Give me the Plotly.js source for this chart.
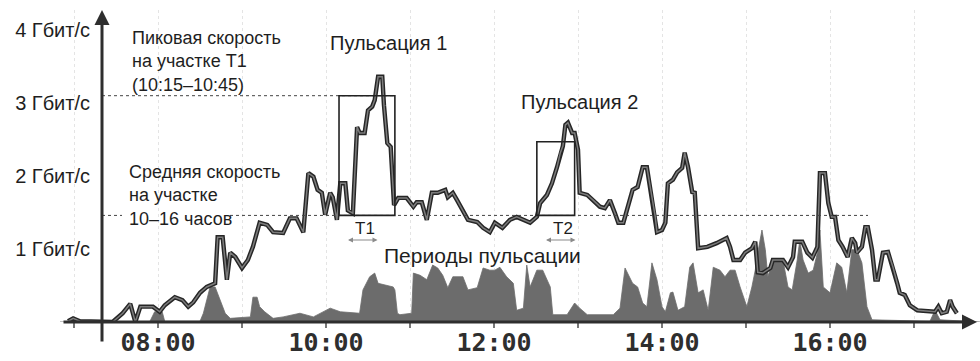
<!DOCTYPE html>
<html>
<head>
<meta charset="utf-8">
<script src="https://cdn.plot.ly/plotly-3.0.1.min.js"></script>
<style>html,body{margin:0;padding:0;background:#fff;}#chart{width:980px;height:361px;}</style>
</head>
<body>
<div id="chart"></div>
<script>
// Total traffic (line), hours of day and Gbit/s
const lineTime = [6.93,6.99,7.07,7.31,7.46,7.58,7.67,7.73,7.79,7.94,8.02,8.08,8.20,8.29,8.36,8.42,8.50,8.58,8.68,8.71,8.77,8.82,8.86,8.92,9.00,9.07,9.13,9.21,9.30,9.37,9.49,9.57,9.65,9.73,9.79,9.85,9.90,9.95,9.99,10.05,10.08,10.13,10.17,10.23,10.26,10.32,10.37,10.40,10.46,10.50,10.55,10.58,10.62,10.67,10.69,10.73,10.77,10.81,10.86,10.96,11.04,11.08,11.14,11.20,11.26,11.33,11.42,11.45,11.51,11.56,11.63,11.69,11.80,11.87,11.95,12.01,12.10,12.19,12.27,12.35,12.43,12.51,12.55,12.63,12.69,12.75,12.79,12.82,12.85,12.88,12.93,12.96,13.00,13.02,13.11,13.18,13.26,13.32,13.38,13.44,13.48,13.54,13.58,13.65,13.71,13.77,13.82,13.88,13.92,13.94,14.00,14.04,14.07,14.13,14.18,14.24,14.27,14.31,14.36,14.39,14.43,14.54,14.65,14.77,14.81,14.85,14.93,14.99,15.07,15.11,15.14,15.20,15.29,15.32,15.44,15.50,15.56,15.58,15.67,15.73,15.79,15.85,15.88,15.94,15.98,16.02,16.06,16.10,16.15,16.21,16.26,16.30,16.32,16.38,16.42,16.45,16.50,16.54,16.57,16.63,16.69,16.75,16.80,16.83,16.89,16.95,17.04,17.25,17.29,17.33,17.39,17.43,17.46,17.51];
const lineSpeed = [0.01,0.05,0.01,0,0,0.12,0.25,0,0.21,0.21,0.14,0.23,0.34,0.30,0.21,0.27,0.40,0.48,0.53,1.16,1.16,0.58,0.95,0.89,0.74,0.85,1.03,1.36,1.33,1.23,1.22,1.42,1.42,1.23,2.04,1.99,1.81,1.77,1.47,1.77,1.71,1.40,1.90,1.90,1.53,1.49,2.67,2.59,2.59,2.90,2.95,3.04,3.36,3.36,2.97,2.45,2.40,1.60,1.70,1.70,1.58,1.64,1.64,1.40,1.77,1.77,1.81,1.71,1.77,1.67,1.53,1.40,1.37,1.29,1.23,1.36,1.29,1.40,1.44,1.40,1.36,1.44,1.63,1.74,1.90,2.12,2.32,2.41,2.70,2.73,2.59,2.59,2.36,1.77,1.74,1.67,1.58,1.56,1.67,1.49,1.36,1.36,1.53,1.81,1.85,2.12,2.12,1.71,1.44,1.23,1.26,1.36,1.90,1.95,2.05,2.11,2.32,2.12,1.78,1.77,1.01,1.03,1.08,1.15,1.03,0.85,0.85,0.95,1.01,1.10,0.68,0.67,0.74,0.85,0.85,0.75,0.89,1.10,1.10,0.95,0.88,1.03,2.04,2.04,1.63,1.44,1.44,1.12,1.03,0.89,1.15,1.08,0.95,1.03,1.30,1.30,0.99,0.58,0.58,0.95,0.96,0.75,0.53,0.40,0.37,0.23,0.16,0.14,0.21,0.12,0.14,0.30,0.21,0.12];

// Burst traffic (filled area)
const burstTime = [6.83,7.90,7.96,8.05,8.08,8.50,8.54,8.62,8.68,8.74,8.80,8.86,9.10,9.13,9.18,9.21,9.27,9.37,9.49,9.69,9.85,10.05,10.17,10.40,10.44,10.52,10.58,10.62,10.68,10.80,10.82,10.85,10.88,11.02,11.04,11.12,11.20,11.27,11.33,11.39,11.45,11.51,11.63,11.69,11.80,11.87,11.95,12.01,12.07,12.15,12.23,12.27,12.35,12.39,12.43,12.51,12.58,12.67,12.70,12.87,12.96,13.02,13.11,13.42,13.50,13.56,13.65,13.71,13.77,13.82,13.88,13.94,14.00,14.04,14.10,14.13,14.19,14.27,14.33,14.37,14.43,14.49,14.55,14.61,14.69,14.75,14.81,14.87,14.93,15.01,15.07,15.11,15.14,15.19,15.23,15.26,15.32,15.44,15.50,15.55,15.61,15.64,15.68,15.74,15.80,15.85,15.88,15.92,16.00,16.08,16.14,16.20,16.26,16.32,16.38,16.44,16.50,17.19,17.25,17.31,17.79];
const burstSpeed = [0,0,0.14,0.14,0.01,0.01,0.12,0.48,0.48,0.30,0.12,0.05,0.07,0.34,0.34,0.21,0.14,0.05,0.07,0.12,0.07,0.19,0.14,0.12,0.44,0.62,0.67,0.53,0.51,0.48,0.44,0.12,0.10,0.12,0.67,0.64,0.58,0.78,0.74,0.64,0.47,0.62,0.62,0.44,0.47,0.74,0.71,0.71,0.75,0.62,0.53,0.16,0.19,0.78,0.48,0.71,0.71,0.48,0.10,0.10,0.26,0.19,0.10,0.10,0.19,0.74,0.53,0.48,0.26,0.21,0.81,0.58,0.21,0.14,0.40,0.41,0.16,0.21,0.75,0.81,0.40,0.44,0.16,0.75,0.71,0.62,0.71,0.71,0.48,0.21,0.48,0.71,0.95,1.26,0.99,0.62,0.85,0.85,0.48,0.44,0.85,1.12,0.85,0.67,0.71,0.95,1.26,0.48,0.40,0.81,0.75,0.40,0.99,0.99,0.81,0.21,0.03,0.01,0.16,0.03,0];

const yTickVals = [1, 2, 3, 4];
const yTickText = ['1 Гбит/с', '2 Гбит/с', '3 Гбит/с', '4 Гбит/с'];
const xTickVals = [8, 10, 12, 14, 16];
const xTickText = ['08:00', '10:00', '12:00', '14:00', '16:00'];

const peakSpeed = 3.1;      // peak on T1
const avgSpeed = 1.46;      // average 10-16 h
const pulse1 = [10.155, 10.82];
const pulse2 = [12.51, 12.96];
const pulse2Top = 2.47;

// pixel -> axis helpers (layout positioning only)
const tx = px => 8 + (px - 158) / 84;
const vy = py => (322 - py) / 73;

const TXT = '#1e1e1e';
const FONT = 'Liberation Sans, Arial, sans-serif';

const traces = [
  {x: burstTime, y: burstSpeed, type: 'scatter', mode: 'lines', fill: 'tozeroy',
   fillcolor: '#6c6c6c', line: {color: '#6c6c6c', width: 0.8}, hoverinfo: 'skip'},
  {x: lineTime, y: lineSpeed, type: 'scatter', mode: 'lines',
   line: {color: '#262626', width: 4.4}, hoverinfo: 'skip'},
  {x: lineTime, y: lineSpeed, type: 'scatter', mode: 'lines',
   line: {color: '#7c7c7c', width: 1.5}, hoverinfo: 'skip'}
];

const shapes = [
  {type: 'line', x0: tx(102), x1: pulse1[1], y0: peakSpeed, y1: peakSpeed, line: {color: '#444', width: 1, dash: 'dot'}},
  {type: 'line', x0: tx(102), x1: tx(122), y0: avgSpeed, y1: avgSpeed, line: {color: '#444', width: 1, dash: 'dot'}},
  {type: 'line', x0: tx(230), x1: tx(868), y0: avgSpeed, y1: avgSpeed, line: {color: '#444', width: 1, dash: 'dot'}},
  {type: 'rect', x0: pulse1[0], x1: pulse1[1], y0: avgSpeed, y1: peakSpeed, line: {color: '#222', width: 1.6}},
  {type: 'rect', x0: pulse2[0], x1: pulse2[1], y0: avgSpeed, y1: pulse2Top, line: {color: '#222', width: 1.6}}
];

function arrow(x, y, ax, ay, w, head, color, side) {
  return {x: x, y: y, ax: ax, ay: ay, xref: 'x', yref: 'y', axref: 'x', ayref: 'y',
    text: '', showarrow: true, arrowhead: head, arrowsize: 1, arrowwidth: w,
    arrowcolor: color, arrowside: side || 'end', standoff: 0, startstandoff: 0};
}
function label(text, x, y, size, xanchor, yanchor, align) {
  return {x: x, y: y, xref: 'x', yref: 'y', text: text, showarrow: false,
    xanchor: xanchor || 'center', yanchor: yanchor || 'middle', align: align || 'left',
    font: {family: FONT, size: size, color: TXT}};
}

const annotations = [
  arrow(tx(977), 0, tx(62), 0, 3, 2, '#2e2e2e'),
  arrow(tx(102), vy(10), tx(102), vy(343), 3, 2, '#2e2e2e'),
  label('Пиковая скорость<br>на участке T1<br>(10:15–10:45)', tx(130), vy(26), 18, 'left', 'top', 'left'),
  label('Средняя скорость<br>на участке<br>10–16 часов', tx(127), vy(160), 18, 'left', 'top', 'left'),
  label('Пульсация 1', tx(388), vy(43), 20),
  label('Пульсация 2', tx(579), vy(102), 20),
  label('T1', tx(365), vy(228), 17),
  label('T2', tx(563), vy(228), 17),
  arrow(tx(348), vy(240), tx(379), vy(240), 1, 2, '#8a8a8a', 'end+start'),
  arrow(tx(546), vy(240), tx(577), vy(240), 1, 2, '#8a8a8a', 'end+start'),
  label('Периоды пульсации', tx(482), vy(255), 21)
];

const layout = {
  width: 980, height: 361,
  margin: {l: 60, r: 0, t: 10, b: 39, pad: 0},
  paper_bgcolor: '#ffffff', plot_bgcolor: '#ffffff',
  showlegend: false,
  xaxis: {
    range: [tx(60), tx(980)], showline: false, zeroline: false,
    tickmode: 'array', tickvals: xTickVals, ticktext: xTickText,
    ticks: 'outside', ticklen: 5, tickwidth: 1.5, tickcolor: '#777',
    ticklabelstandoff: -7,
    tickfont: {family: 'DejaVu Sans Mono, monospace', size: 25, color: '#2e2e2e', weight: 'bold'},
    showgrid: true, gridcolor: '#e4e4e4', griddash: 'dot', gridwidth: 1,
    minor: {tick0: 0, dtick: 1, ticks: 'outside', ticklen: 5, tickwidth: 1.5, tickcolor: '#777',
            showgrid: true, gridcolor: '#e4e4e4', griddash: 'dot'},
    fixedrange: true
  },
  yaxis: {
    range: [0, vy(10)], anchor: 'free', position: (102 - 60) / 920,
    showline: false, zeroline: false, showgrid: false,
    tickmode: 'array', tickvals: yTickVals, ticktext: yTickText,
    ticks: '', ticklabelstandoff: 12,
    tickfont: {family: FONT, size: 20, color: TXT},
    fixedrange: true
  },
  shapes: shapes,
  annotations: annotations
};

Plotly.newPlot('chart', traces, layout, {staticPlot: true, displayModeBar: false});
</script>
</body>
</html>
